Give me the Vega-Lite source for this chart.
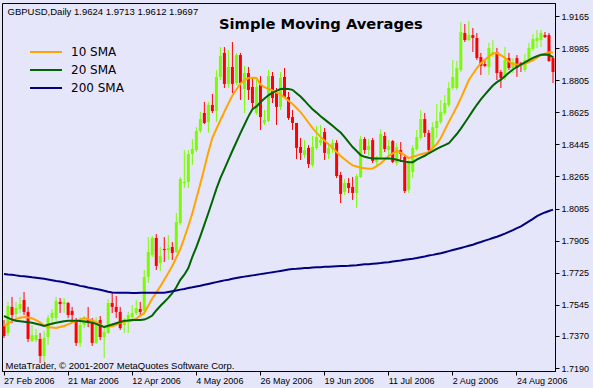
{
"$schema":"https://vega.github.io/schema/vega-lite/v6.json",
"width":553,"height":368,
"autosize":{"type":"none"},
"padding":{"left":2,"top":3,"right":38,"bottom":17},
"background":"#E6E6FA",
"config":{"view":{"stroke":"black","strokeWidth":1,"fill":"#E6E6FA"}},
"title":{"text":"Simple Moving Averages","anchor":"start","frame":"group","font":"DejaVu Sans","fontSize":14.7,"fontWeight":"bold","color":"black","offset":0,"dx":217,"dy":41,"baseline":"alphabetic"},
"data":{"values":[
{"d":"27 Feb 2006","o":1.7426,"h":1.7460,"l":1.7359,"c":1.7370,"10 SMA":1.7426,"20 SMA":1.7482,"200 SMA":1.7718},
{"d":"28 Feb 2006","o":1.7387,"h":1.7561,"l":1.7370,"c":1.7538,"10 SMA":1.7439,"20 SMA":1.7472,"200 SMA":1.7715},
{"d":"1 Mar 2006","o":1.7533,"h":1.7589,"l":1.7443,"c":1.7488,"10 SMA":1.7453,"20 SMA":1.7462,"200 SMA":1.7713},
{"d":"2 Mar 2006","o":1.7493,"h":1.7561,"l":1.7448,"c":1.7527,"10 SMA":1.7464,"20 SMA":1.7455,"200 SMA":1.7710},
{"d":"3 Mar 2006","o":1.7521,"h":1.7589,"l":1.7499,"c":1.7549,"10 SMA":1.7472,"20 SMA":1.7453,"200 SMA":1.7707},
{"d":"6 Mar 2006","o":1.7572,"h":1.7617,"l":1.7488,"c":1.7505,"10 SMA":1.7477,"20 SMA":1.7450,"200 SMA":1.7705},
{"d":"7 Mar 2006","o":1.7505,"h":1.7533,"l":1.7336,"c":1.7353,"10 SMA":1.7474,"20 SMA":1.7447,"200 SMA":1.7702},
{"d":"8 Mar 2006","o":1.7342,"h":1.7432,"l":1.7336,"c":1.7375,"10 SMA":1.7469,"20 SMA":1.7444,"200 SMA":1.7699},
{"d":"9 Mar 2006","o":1.7347,"h":1.7409,"l":1.7336,"c":1.7375,"10 SMA":1.7459,"20 SMA":1.7439,"200 SMA":1.7697},
{"d":"10 Mar 2006","o":1.7353,"h":1.7387,"l":1.7218,"c":1.7258,"10 SMA":1.7446,"20 SMA":1.7433,"200 SMA":1.7694},
{"d":"13 Mar 2006","o":1.7258,"h":1.7398,"l":1.7224,"c":1.7359,"10 SMA":1.7429,"20 SMA":1.7426,"200 SMA":1.7691},
{"d":"14 Mar 2006","o":1.7364,"h":1.7488,"l":1.7319,"c":1.7471,"10 SMA":1.7419,"20 SMA":1.7433,"200 SMA":1.7687},
{"d":"15 Mar 2006","o":1.7471,"h":1.7521,"l":1.7443,"c":1.7499,"10 SMA":1.7417,"20 SMA":1.7439,"200 SMA":1.7683},
{"d":"16 Mar 2006","o":1.7471,"h":1.7589,"l":1.7454,"c":1.7566,"10 SMA":1.7415,"20 SMA":1.7444,"200 SMA":1.7679},
{"d":"17 Mar 2006","o":1.7561,"h":1.7583,"l":1.7499,"c":1.7549,"10 SMA":1.7420,"20 SMA":1.7448,"200 SMA":1.7676},
{"d":"20 Mar 2006","o":1.7549,"h":1.7583,"l":1.7499,"c":1.7561,"10 SMA":1.7426,"20 SMA":1.7452,"200 SMA":1.7671},
{"d":"21 Mar 2006","o":1.7555,"h":1.7561,"l":1.7471,"c":1.7488,"10 SMA":1.7435,"20 SMA":1.7456,"200 SMA":1.7666},
{"d":"22 Mar 2006","o":1.7510,"h":1.7533,"l":1.7448,"c":1.7488,"10 SMA":1.7445,"20 SMA":1.7455,"200 SMA":1.7661},
{"d":"23 Mar 2006","o":1.7460,"h":1.7471,"l":1.7314,"c":1.7331,"10 SMA":1.7453,"20 SMA":1.7455,"200 SMA":1.7657},
{"d":"24 Mar 2006","o":1.7331,"h":1.7476,"l":1.7308,"c":1.7432,"10 SMA":1.7462,"20 SMA":1.7454,"200 SMA":1.7651},
{"d":"27 Mar 2006","o":1.7432,"h":1.7482,"l":1.7415,"c":1.7460,"10 SMA":1.7471,"20 SMA":1.7451,"200 SMA":1.7647},
{"d":"28 Mar 2006","o":1.7465,"h":1.7533,"l":1.7420,"c":1.7443,"10 SMA":1.7464,"20 SMA":1.7448,"200 SMA":1.7642},
{"d":"29 Mar 2006","o":1.7448,"h":1.7471,"l":1.7314,"c":1.7331,"10 SMA":1.7457,"20 SMA":1.7444,"200 SMA":1.7638},
{"d":"30 Mar 2006","o":1.7331,"h":1.7476,"l":1.7325,"c":1.7448,"10 SMA":1.7447,"20 SMA":1.7438,"200 SMA":1.7634},
{"d":"31 Mar 2006","o":1.7460,"h":1.7482,"l":1.7347,"c":1.7364,"10 SMA":1.7434,"20 SMA":1.7429,"200 SMA":1.7629},
{"d":"3 Apr 2006","o":1.7364,"h":1.7415,"l":1.7246,"c":1.7392,"10 SMA":1.7420,"20 SMA":1.7420,"200 SMA":1.7624},
{"d":"4 Apr 2006","o":1.7387,"h":1.7577,"l":1.7381,"c":1.7555,"10 SMA":1.7423,"20 SMA":1.7427,"200 SMA":1.7618},
{"d":"5 Apr 2006","o":1.7555,"h":1.7611,"l":1.7499,"c":1.7533,"10 SMA":1.7425,"20 SMA":1.7434,"200 SMA":1.7614},
{"d":"6 Apr 2006","o":1.7533,"h":1.7594,"l":1.7471,"c":1.7505,"10 SMA":1.7432,"20 SMA":1.7441,"200 SMA":1.7613},
{"d":"7 Apr 2006","o":1.7505,"h":1.7533,"l":1.7404,"c":1.7415,"10 SMA":1.7445,"20 SMA":1.7448,"200 SMA":1.7613},
{"d":"10 Apr 2006","o":1.7432,"h":1.7471,"l":1.7387,"c":1.7448,"10 SMA":1.7451,"20 SMA":1.7456,"200 SMA":1.7612},
{"d":"11 Apr 2006","o":1.7448,"h":1.7505,"l":1.7387,"c":1.7488,"10 SMA":1.7454,"20 SMA":1.7457,"200 SMA":1.7612},
{"d":"12 Apr 2006","o":1.7476,"h":1.7544,"l":1.7448,"c":1.7499,"10 SMA":1.7458,"20 SMA":1.7459,"200 SMA":1.7611},
{"d":"13 Apr 2006","o":1.7499,"h":1.7572,"l":1.7488,"c":1.7527,"10 SMA":1.7467,"20 SMA":1.7460,"200 SMA":1.7611},
{"d":"14 Apr 2006","o":1.7521,"h":1.7561,"l":1.7488,"c":1.7505,"10 SMA":1.7484,"20 SMA":1.7460,"200 SMA":1.7612},
{"d":"17 Apr 2006","o":1.7510,"h":1.7740,"l":1.7488,"c":1.7701,"10 SMA":1.7499,"20 SMA":1.7462,"200 SMA":1.7612},
{"d":"18 Apr 2006","o":1.7701,"h":1.7925,"l":1.7667,"c":1.7841,"10 SMA":1.7540,"20 SMA":1.7471,"200 SMA":1.7612},
{"d":"19 Apr 2006","o":1.7824,"h":1.7931,"l":1.7813,"c":1.7920,"10 SMA":1.7580,"20 SMA":1.7485,"200 SMA":1.7612},
{"d":"20 Apr 2006","o":1.7920,"h":1.7942,"l":1.7740,"c":1.7763,"10 SMA":1.7614,"20 SMA":1.7513,"200 SMA":1.7613},
{"d":"21 Apr 2006","o":1.7779,"h":1.7869,"l":1.7735,"c":1.7819,"10 SMA":1.7648,"20 SMA":1.7538,"200 SMA":1.7613},
{"d":"24 Apr 2006","o":1.7858,"h":1.7925,"l":1.7785,"c":1.7852,"10 SMA":1.7685,"20 SMA":1.7561,"200 SMA":1.7613},
{"d":"25 Apr 2006","o":1.7852,"h":1.7936,"l":1.7796,"c":1.7864,"10 SMA":1.7723,"20 SMA":1.7584,"200 SMA":1.7617},
{"d":"26 Apr 2006","o":1.7869,"h":1.7897,"l":1.7796,"c":1.7836,"10 SMA":1.7763,"20 SMA":1.7610,"200 SMA":1.7621},
{"d":"27 Apr 2006","o":1.7841,"h":1.8060,"l":1.7836,"c":1.8009,"10 SMA":1.7810,"20 SMA":1.7643,"200 SMA":1.7625},
{"d":"28 Apr 2006","o":1.8004,"h":1.8262,"l":1.7993,"c":1.8251,"10 SMA":1.7857,"20 SMA":1.7685,"200 SMA":1.7630},
{"d":"1 May 2006","o":1.8228,"h":1.8413,"l":1.8200,"c":1.8234,"10 SMA":1.7920,"20 SMA":1.7714,"200 SMA":1.7634},
{"d":"2 May 2006","o":1.8234,"h":1.8413,"l":1.8200,"c":1.8391,"10 SMA":1.7987,"20 SMA":1.7751,"200 SMA":1.7639},
{"d":"3 May 2006","o":1.8391,"h":1.8475,"l":1.8329,"c":1.8419,"10 SMA":1.8058,"20 SMA":1.7814,"200 SMA":1.7643},
{"d":"4 May 2006","o":1.8413,"h":1.8542,"l":1.8402,"c":1.8520,"10 SMA":1.8141,"20 SMA":1.7868,"200 SMA":1.7648},
{"d":"5 May 2006","o":1.8520,"h":1.8627,"l":1.8509,"c":1.8587,"10 SMA":1.8224,"20 SMA":1.7930,"200 SMA":1.7652},
{"d":"8 May 2006","o":1.8621,"h":1.8683,"l":1.8559,"c":1.8565,"10 SMA":1.8312,"20 SMA":1.7995,"200 SMA":1.7657},
{"d":"9 May 2006","o":1.8570,"h":1.8683,"l":1.8509,"c":1.8666,"10 SMA":1.8402,"20 SMA":1.8060,"200 SMA":1.7662},
{"d":"10 May 2006","o":1.8666,"h":1.8728,"l":1.8621,"c":1.8632,"10 SMA":1.8482,"20 SMA":1.8127,"200 SMA":1.7667},
{"d":"11 May 2006","o":1.8632,"h":1.8862,"l":1.8570,"c":1.8823,"10 SMA":1.8531,"20 SMA":1.8195,"200 SMA":1.7672},
{"d":"12 May 2006","o":1.8823,"h":1.8991,"l":1.8806,"c":1.8941,"10 SMA":1.8580,"20 SMA":1.8255,"200 SMA":1.7677},
{"d":"15 May 2006","o":1.8958,"h":1.8991,"l":1.8761,"c":1.8784,"10 SMA":1.8628,"20 SMA":1.8306,"200 SMA":1.7682},
{"d":"16 May 2006","o":1.8784,"h":1.8974,"l":1.8761,"c":1.8879,"10 SMA":1.8675,"20 SMA":1.8358,"200 SMA":1.7686},
{"d":"17 May 2006","o":1.8879,"h":1.9019,"l":1.8733,"c":1.8784,"10 SMA":1.8719,"20 SMA":1.8409,"200 SMA":1.7691},
{"d":"18 May 2006","o":1.8789,"h":1.8958,"l":1.8778,"c":1.8946,"10 SMA":1.8753,"20 SMA":1.8458,"200 SMA":1.7695},
{"d":"19 May 2006","o":1.8946,"h":1.8958,"l":1.8694,"c":1.8789,"10 SMA":1.8786,"20 SMA":1.8508,"200 SMA":1.7699},
{"d":"22 May 2006","o":1.8756,"h":1.8885,"l":1.8621,"c":1.8845,"10 SMA":1.8804,"20 SMA":1.8555,"200 SMA":1.7703},
{"d":"23 May 2006","o":1.8845,"h":1.8879,"l":1.8694,"c":1.8750,"10 SMA":1.8817,"20 SMA":1.8602,"200 SMA":1.7706},
{"d":"24 May 2006","o":1.8767,"h":1.8817,"l":1.8649,"c":1.8677,"10 SMA":1.8819,"20 SMA":1.8642,"200 SMA":1.7710},
{"d":"25 May 2006","o":1.8621,"h":1.8806,"l":1.8610,"c":1.8767,"10 SMA":1.8817,"20 SMA":1.8658,"200 SMA":1.7713},
{"d":"26 May 2006","o":1.8778,"h":1.8828,"l":1.8526,"c":1.8598,"10 SMA":1.8781,"20 SMA":1.8681,"200 SMA":1.7717},
{"d":"29 May 2006","o":1.8565,"h":1.8638,"l":1.8554,"c":1.8582,"10 SMA":1.8766,"20 SMA":1.8702,"200 SMA":1.7720},
{"d":"30 May 2006","o":1.8576,"h":1.8862,"l":1.8570,"c":1.8828,"10 SMA":1.8757,"20 SMA":1.8720,"200 SMA":1.7724},
{"d":"31 May 2006","o":1.8828,"h":1.8851,"l":1.8677,"c":1.8705,"10 SMA":1.8747,"20 SMA":1.8735,"200 SMA":1.7727},
{"d":"1 Jun 2006","o":1.8733,"h":1.8761,"l":1.8554,"c":1.8655,"10 SMA":1.8736,"20 SMA":1.8745,"200 SMA":1.7731},
{"d":"2 Jun 2006","o":1.8655,"h":1.8851,"l":1.8638,"c":1.8817,"10 SMA":1.8725,"20 SMA":1.8755,"200 SMA":1.7735},
{"d":"5 Jun 2006","o":1.8823,"h":1.8873,"l":1.8705,"c":1.8711,"10 SMA":1.8708,"20 SMA":1.8757,"200 SMA":1.7739},
{"d":"6 Jun 2006","o":1.8711,"h":1.8739,"l":1.8582,"c":1.8593,"10 SMA":1.8690,"20 SMA":1.8756,"200 SMA":1.7743},
{"d":"7 Jun 2006","o":1.8598,"h":1.8638,"l":1.8526,"c":1.8565,"10 SMA":1.8671,"20 SMA":1.8751,"200 SMA":1.7746},
{"d":"8 Jun 2006","o":1.8565,"h":1.8565,"l":1.8363,"c":1.8425,"10 SMA":1.8649,"20 SMA":1.8732,"200 SMA":1.7747},
{"d":"9 Jun 2006","o":1.8430,"h":1.8481,"l":1.8357,"c":1.8397,"10 SMA":1.8626,"20 SMA":1.8713,"200 SMA":1.7749},
{"d":"12 Jun 2006","o":1.8385,"h":1.8469,"l":1.8368,"c":1.8413,"10 SMA":1.8597,"20 SMA":1.8690,"200 SMA":1.7751},
{"d":"13 Jun 2006","o":1.8425,"h":1.8441,"l":1.8312,"c":1.8335,"10 SMA":1.8566,"20 SMA":1.8665,"200 SMA":1.7752},
{"d":"14 Jun 2006","o":1.8329,"h":1.8492,"l":1.8318,"c":1.8430,"10 SMA":1.8536,"20 SMA":1.8642,"200 SMA":1.7754},
{"d":"15 Jun 2006","o":1.8425,"h":1.8548,"l":1.8413,"c":1.8486,"10 SMA":1.8511,"20 SMA":1.8623,"200 SMA":1.7755},
{"d":"16 Jun 2006","o":1.8453,"h":1.8554,"l":1.8436,"c":1.8469,"10 SMA":1.8487,"20 SMA":1.8603,"200 SMA":1.7756},
{"d":"19 Jun 2006","o":1.8514,"h":1.8537,"l":1.8357,"c":1.8397,"10 SMA":1.8465,"20 SMA":1.8585,"200 SMA":1.7758},
{"d":"20 Jun 2006","o":1.8391,"h":1.8453,"l":1.8363,"c":1.8425,"10 SMA":1.8445,"20 SMA":1.8567,"200 SMA":1.7759},
{"d":"21 Jun 2006","o":1.8419,"h":1.8475,"l":1.8397,"c":1.8453,"10 SMA":1.8425,"20 SMA":1.8549,"200 SMA":1.7760},
{"d":"22 Jun 2006","o":1.8453,"h":1.8469,"l":1.8256,"c":1.8267,"10 SMA":1.8402,"20 SMA":1.8530,"200 SMA":1.7761},
{"d":"23 Jun 2006","o":1.8273,"h":1.8290,"l":1.8116,"c":1.8167,"10 SMA":1.8380,"20 SMA":1.8511,"200 SMA":1.7762},
{"d":"26 Jun 2006","o":1.8178,"h":1.8251,"l":1.8161,"c":1.8228,"10 SMA":1.8361,"20 SMA":1.8486,"200 SMA":1.7763},
{"d":"27 Jun 2006","o":1.8228,"h":1.8256,"l":1.8172,"c":1.8200,"10 SMA":1.8343,"20 SMA":1.8457,"200 SMA":1.7764},
{"d":"28 Jun 2006","o":1.8206,"h":1.8262,"l":1.8133,"c":1.8172,"10 SMA":1.8327,"20 SMA":1.8430,"200 SMA":1.7766},
{"d":"29 Jun 2006","o":1.8172,"h":1.8279,"l":1.8088,"c":1.8267,"10 SMA":1.8321,"20 SMA":1.8408,"200 SMA":1.7767},
{"d":"30 Jun 2006","o":1.8262,"h":1.8492,"l":1.8256,"c":1.8475,"10 SMA":1.8314,"20 SMA":1.8385,"200 SMA":1.7770},
{"d":"3 Jul 2006","o":1.8475,"h":1.8486,"l":1.8391,"c":1.8413,"10 SMA":1.8311,"20 SMA":1.8375,"200 SMA":1.7772},
{"d":"4 Jul 2006","o":1.8413,"h":1.8475,"l":1.8380,"c":1.8436,"10 SMA":1.8308,"20 SMA":1.8370,"200 SMA":1.7773},
{"d":"5 Jul 2006","o":1.8469,"h":1.8481,"l":1.8340,"c":1.8352,"10 SMA":1.8310,"20 SMA":1.8366,"200 SMA":1.7775},
{"d":"6 Jul 2006","o":1.8346,"h":1.8380,"l":1.8329,"c":1.8374,"10 SMA":1.8323,"20 SMA":1.8366,"200 SMA":1.7777},
{"d":"7 Jul 2006","o":1.8374,"h":1.8531,"l":1.8357,"c":1.8503,"10 SMA":1.8338,"20 SMA":1.8366,"200 SMA":1.7779},
{"d":"10 Jul 2006","o":1.8492,"h":1.8514,"l":1.8402,"c":1.8419,"10 SMA":1.8358,"20 SMA":1.8366,"200 SMA":1.7782},
{"d":"11 Jul 2006","o":1.8413,"h":1.8469,"l":1.8357,"c":1.8436,"10 SMA":1.8380,"20 SMA":1.8366,"200 SMA":1.7784},
{"d":"12 Jul 2006","o":1.8464,"h":1.8469,"l":1.8340,"c":1.8346,"10 SMA":1.8394,"20 SMA":1.8364,"200 SMA":1.7788},
{"d":"13 Jul 2006","o":1.8340,"h":1.8453,"l":1.8324,"c":1.8430,"10 SMA":1.8408,"20 SMA":1.8359,"200 SMA":1.7791},
{"d":"14 Jul 2006","o":1.8413,"h":1.8458,"l":1.8346,"c":1.8391,"10 SMA":1.8399,"20 SMA":1.8353,"200 SMA":1.7793},
{"d":"17 Jul 2006","o":1.8374,"h":1.8385,"l":1.8172,"c":1.8183,"10 SMA":1.8385,"20 SMA":1.8348,"200 SMA":1.7797},
{"d":"18 Jul 2006","o":1.8189,"h":1.8357,"l":1.8172,"c":1.8340,"10 SMA":1.8368,"20 SMA":1.8344,"200 SMA":1.7800},
{"d":"19 Jul 2006","o":1.8290,"h":1.8441,"l":1.8256,"c":1.8425,"10 SMA":1.8375,"20 SMA":1.8345,"200 SMA":1.7803},
{"d":"20 Jul 2006","o":1.8419,"h":1.8526,"l":1.8408,"c":1.8486,"10 SMA":1.8382,"20 SMA":1.8359,"200 SMA":1.7807},
{"d":"21 Jul 2006","o":1.8481,"h":1.8638,"l":1.8469,"c":1.8587,"10 SMA":1.8389,"20 SMA":1.8370,"200 SMA":1.7812},
{"d":"24 Jul 2006","o":1.8587,"h":1.8621,"l":1.8486,"c":1.8509,"10 SMA":1.8395,"20 SMA":1.8381,"200 SMA":1.7816},
{"d":"25 Jul 2006","o":1.8509,"h":1.8526,"l":1.8397,"c":1.8413,"10 SMA":1.8402,"20 SMA":1.8395,"200 SMA":1.7821},
{"d":"26 Jul 2006","o":1.8425,"h":1.8570,"l":1.8413,"c":1.8542,"10 SMA":1.8426,"20 SMA":1.8407,"200 SMA":1.7825},
{"d":"27 Jul 2006","o":1.8537,"h":1.8671,"l":1.8481,"c":1.8576,"10 SMA":1.8447,"20 SMA":1.8420,"200 SMA":1.7830},
{"d":"28 Jul 2006","o":1.8570,"h":1.8694,"l":1.8559,"c":1.8627,"10 SMA":1.8481,"20 SMA":1.8431,"200 SMA":1.7834},
{"d":"31 Jul 2006","o":1.8621,"h":1.8722,"l":1.8610,"c":1.8677,"10 SMA":1.8526,"20 SMA":1.8441,"200 SMA":1.7840},
{"d":"1 Aug 2006","o":1.8666,"h":1.8795,"l":1.8655,"c":1.8761,"10 SMA":1.8570,"20 SMA":1.8451,"200 SMA":1.7846},
{"d":"2 Aug 2006","o":1.8761,"h":1.8918,"l":1.8750,"c":1.8823,"10 SMA":1.8613,"20 SMA":1.8477,"200 SMA":1.7852},
{"d":"3 Aug 2006","o":1.8761,"h":1.8913,"l":1.8750,"c":1.8873,"10 SMA":1.8656,"20 SMA":1.8503,"200 SMA":1.7858},
{"d":"4 Aug 2006","o":1.8862,"h":1.9131,"l":1.8851,"c":1.9075,"10 SMA":1.8703,"20 SMA":1.8533,"200 SMA":1.7864},
{"d":"7 Aug 2006","o":1.9070,"h":1.9120,"l":1.9019,"c":1.9030,"10 SMA":1.8754,"20 SMA":1.8566,"200 SMA":1.7870},
{"d":"8 Aug 2006","o":1.9030,"h":1.9137,"l":1.9025,"c":1.9058,"10 SMA":1.8806,"20 SMA":1.8600,"200 SMA":1.7876},
{"d":"9 Aug 2006","o":1.9058,"h":1.9098,"l":1.8963,"c":1.9042,"10 SMA":1.8840,"20 SMA":1.8634,"200 SMA":1.7882},
{"d":"10 Aug 2006","o":1.9042,"h":1.9070,"l":1.8918,"c":1.8929,"10 SMA":1.8873,"20 SMA":1.8667,"200 SMA":1.7890},
{"d":"11 Aug 2006","o":1.8935,"h":1.8958,"l":1.8834,"c":1.8885,"10 SMA":1.8900,"20 SMA":1.8697,"200 SMA":1.7897},
{"d":"14 Aug 2006","o":1.8896,"h":1.8924,"l":1.8879,"c":1.8885,"10 SMA":1.8919,"20 SMA":1.8724,"200 SMA":1.7905},
{"d":"15 Aug 2006","o":1.8879,"h":1.9014,"l":1.8834,"c":1.8986,"10 SMA":1.8938,"20 SMA":1.8750,"200 SMA":1.7912},
{"d":"16 Aug 2006","o":1.8958,"h":1.9030,"l":1.8935,"c":1.8963,"10 SMA":1.8955,"20 SMA":1.8775,"200 SMA":1.7920},
{"d":"17 Aug 2006","o":1.8963,"h":1.8986,"l":1.8806,"c":1.8845,"10 SMA":1.8957,"20 SMA":1.8794,"200 SMA":1.7927},
{"d":"18 Aug 2006","o":1.8851,"h":1.8862,"l":1.8761,"c":1.8817,"10 SMA":1.8945,"20 SMA":1.8808,"200 SMA":1.7935},
{"d":"21 Aug 2006","o":1.8817,"h":1.8991,"l":1.8806,"c":1.8918,"10 SMA":1.8930,"20 SMA":1.8827,"200 SMA":1.7944},
{"d":"22 Aug 2006","o":1.8929,"h":1.8958,"l":1.8862,"c":1.8873,"10 SMA":1.8910,"20 SMA":1.8847,"200 SMA":1.7954},
{"d":"23 Aug 2006","o":1.8873,"h":1.8929,"l":1.8845,"c":1.8907,"10 SMA":1.8895,"20 SMA":1.8865,"200 SMA":1.7964},
{"d":"24 Aug 2006","o":1.8929,"h":1.8946,"l":1.8823,"c":1.8873,"10 SMA":1.8893,"20 SMA":1.8879,"200 SMA":1.7975},
{"d":"25 Aug 2006","o":1.8901,"h":1.8907,"l":1.8851,"c":1.8890,"10 SMA":1.8891,"20 SMA":1.8892,"200 SMA":1.7985},
{"d":"28 Aug 2006","o":1.8862,"h":1.8952,"l":1.8851,"c":1.8918,"10 SMA":1.8897,"20 SMA":1.8905,"200 SMA":1.7999},
{"d":"29 Aug 2006","o":1.8918,"h":1.9014,"l":1.8907,"c":1.8986,"10 SMA":1.8906,"20 SMA":1.8918,"200 SMA":1.8013},
{"d":"30 Aug 2006","o":1.8980,"h":1.9064,"l":1.8969,"c":1.9036,"10 SMA":1.8916,"20 SMA":1.8930,"200 SMA":1.8027},
{"d":"31 Aug 2006","o":1.9025,"h":1.9087,"l":1.8986,"c":1.9042,"10 SMA":1.8931,"20 SMA":1.8939,"200 SMA":1.8042},
{"d":"1 Sep 2006","o":1.9030,"h":1.9087,"l":1.8991,"c":1.9070,"10 SMA":1.8945,"20 SMA":1.8948,"200 SMA":1.8054},
{"d":"4 Sep 2006","o":1.9058,"h":1.9075,"l":1.9042,"c":1.9047,"10 SMA":1.8954,"20 SMA":1.8949,"200 SMA":1.8063},
{"d":"5 Sep 2006","o":1.9058,"h":1.9070,"l":1.8907,"c":1.8913,"10 SMA":1.8961,"20 SMA":1.8946,"200 SMA":1.8071},
{"d":"6 Sep 2006","o":1.8929,"h":1.8941,"l":1.8789,"c":1.8851,"10 SMA":1.8960,"20 SMA":1.8934,"200 SMA":1.8079}
]},
"encoding":{
"x":{"field":"d","type":"ordinal","sort":null,"scale":{"paddingInner":0,"paddingOuter":0},
"axis":{"values":["27 Feb 2006","21 Mar 2006","12 Apr 2006","4 May 2006","26 May 2006","19 Jun 2006","11 Jul 2006","2 Aug 2006","24 Aug 2006"],"bandPosition":0.5,"labelAlign":"left","labelAngle":0,"labelDx":-2,"labelPadding":1,"tickSize":4,"tickColor":"black","domainColor":"black","labelFont":"Liberation Sans","labelFontSize":9,"labelColor":"black","labelOverlap":false,"labelBound":false,"labelFlush":false,"grid":false,
"title":"MetaTrader, © 2001-2007 MetaQuotes Software Corp.","titleX":3,"titleY":-3,"titleAlign":"left","titleAnchor":"start","titleBaseline":"alphabetic","titleFont":"Liberation Sans","titleFontSize":9.5,"titleFontWeight":"normal","titleColor":"black"}}
},
"layer":[
{"mark":{"type":"rule","strokeWidth":1},
"encoding":{
"y":{"field":"l","type":"quantitative","scale":{"domain":[1.71735,1.9238],"nice":false,"zero":false},
"axis":{"orient":"right","values":[1.9165,1.8985,1.8805,1.8625,1.8445,1.8265,1.8085,1.7905,1.7725,1.7545,1.737,1.719],"format":".4f","tickSize":4,"labelPadding":2,"labelFont":"Liberation Sans","labelFontSize":9,"labelColor":"black","tickColor":"black","domainColor":"black","grid":false,"title":null,"labelOverlap":false,"labelBound":false,"labelFlush":false}},
"y2":{"field":"h"},
"color":{"condition":{"test":"datum.c >= datum.o","value":"#7CFC00"},"value":"#FF0000"}}},
{"mark":{"type":"bar","size":3},
"encoding":{
"y":{"field":"o","type":"quantitative","scale":{"domain":[1.71735,1.9238],"nice":false,"zero":false},
"axis":{"orient":"left","domain":false,"ticks":false,"labels":false,"grid":false,"title":"GBPUSD,Daily  1.9624 1.9713 1.9612 1.9697","titleAngle":0,"titleX":5,"titleY":11,"titleAlign":"left","titleAnchor":"start","titleBaseline":"alphabetic","titleFont":"Liberation Sans","titleFontSize":9.5,"titleFontWeight":"normal","titleColor":"black"}},
"y2":{"field":"c"},
"color":{"condition":{"test":"datum.c >= datum.o","value":"#7CFC00"},"value":"#FF0000"}}},
{"transform":[{"fold":["10 SMA","20 SMA","200 SMA"],"as":["series","value"]}],
"mark":{"type":"line","strokeWidth":2},
"encoding":{
"y":{"field":"value","type":"quantitative","scale":{"domain":[1.71735,1.9238],"nice":false,"zero":false},"axis":null},
"color":{"field":"series","type":"nominal","scale":{"domain":["10 SMA","20 SMA","200 SMA"],"range":["#FFA500","#006400","#000080"]},
"legend":{"orient":"none","legendX":38,"legendY":43,"title":null,"symbolType":"M-3.2,0H3.2","symbolSize":100,"symbolStrokeWidth":2,"labelFont":"DejaVu Sans","labelFontSize":12,"labelColor":"black","labelOffset":19,"rowPadding":6,"padding":0,"labelLimit":200}}}}
],
"resolve":{"axis":{"y":"independent"}}
}
